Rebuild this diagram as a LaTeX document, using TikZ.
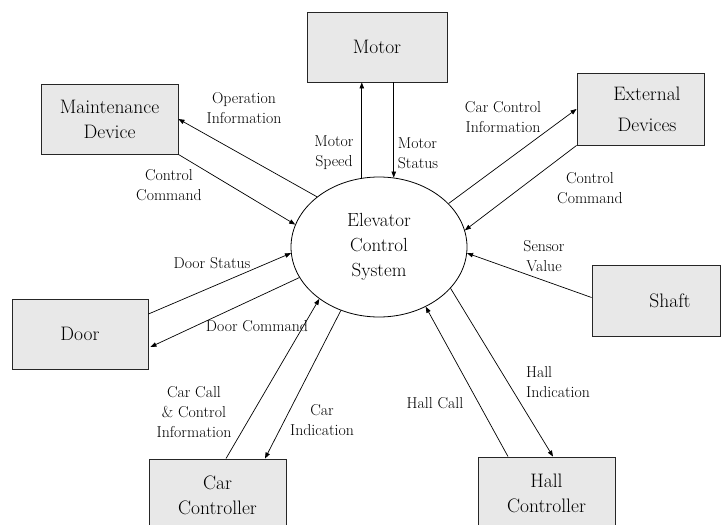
\documentclass[tikz,border=0pt]{standalone}
\usetikzlibrary{shapes.geometric,arrows.meta,calc}
\begin{document}
\begin{tikzpicture}[x=1pt,y=-1pt,
  box/.style={draw=black!85, fill=black!9, line width=0.9pt, inner sep=0pt,
              font=\fontsize{19.5}{25}\selectfont, align=center},
  lbl/.style={font=\fontsize{15.8}{20}\selectfont, align=center, inner sep=0pt},
  flow/.style={-{Triangle[length=6pt,width=4.5pt]}, line width=0.7pt}]
\clip (0,0) rectangle (721,525);
\fill[white] (0,0) rectangle (721,525);

% external entities
\node[box, minimum width=137pt, minimum height=70pt] (md) at (109.5,119) {Maintenance\\Device};
\node[box, minimum width=140pt, minimum height=70pt] (motor) at (377,47) {Motor};
\node[box, minimum width=127pt, minimum height=72pt] (ext) at (640.5,109)
  {\hspace*{13pt}External\\[6pt]\hspace*{13pt}Devices};
\node[box, minimum width=136pt, minimum height=70pt] (door) at (80,334) {Door};
\node[box, minimum width=137pt, minimum height=72pt] (car) at (217.5,495) {Car\\Controller};
\node[box, minimum width=137pt, minimum height=72pt] (hall) at (546.5,493) {Hall\\Controller};
\node[box, minimum width=128pt, minimum height=71pt] (shaft) at (656,300.5) {\hspace*{28pt}Shaft};

% the system process
\node[ellipse, draw, line width=0.8pt, minimum width=176pt, minimum height=140pt,
      inner sep=0pt, font=\fontsize{19}{25}\selectfont, align=center]
  (ecs) at (379,247) {Elevator\\Control\\System};

% data flows
\draw[flow] (ecs.141) -- (md.east);
\draw[flow] (md.south east) -- (ecs.165);
\draw[flow] (ecs.104) -- (ecs.104 |- motor.south);
\draw[flow] (ecs.78.5 |- motor.south) -- (ecs.78.5);
\draw[flow] (ecs.32) -- (ext.west);
\draw[flow] (ext.south west) -- (ecs.11);
\draw[flow] ($(shaft.west)+(0,-3)$) -- (ecs.-4);
\draw[flow] (ecs.-30) -- ($(hall.north)+(6.5,0)$);
\draw[flow] ($(hall.north)+(-38.5,0)$) -- (ecs.-52);
\draw[flow] (ecs.239) -- ($(car.north)+(47.5,0)$);
\draw[flow] ($(car.north)+(8.5,0)$) -- (ecs.221);
\draw[flow] ($(door.east)+(0,-20)$) -- (ecs.184);
\draw[flow] (ecs.201) -- ($(door.east)+(2,13)$);

% flow labels
\node[lbl] (l1) at (244,108) {Operation\\Information};
\node[lbl] (l2) at (169,185) {Control\\Command};
\node[lbl] (l3) at (334,153) {Motor\\Speed};
\node[lbl, align=left] (l4) at (418,153) {Motor\\Status};
\node[lbl] (l5) at (503,117) {Car Control\\Information};
\node[lbl] (l6) at (590,188) {Control\\Command};
\node[lbl] (l7) at (544,256) {Sensor\\Value};
\node[lbl, align=left] (l8) at (558,382) {Hall\\Indication};
\node[lbl] (l9) at (435,403) {Hall Call};
\node[lbl] (l10) at (322,420) {Car\\Indication};
\node[lbl] (l11) at (194,412) {Car Call\\\& Control\\Information};
\node[lbl] (l12) at (212,263) {Door Status};
\node[lbl] (l13) at (257,326) {Door Command};
\end{tikzpicture}
\end{document}
